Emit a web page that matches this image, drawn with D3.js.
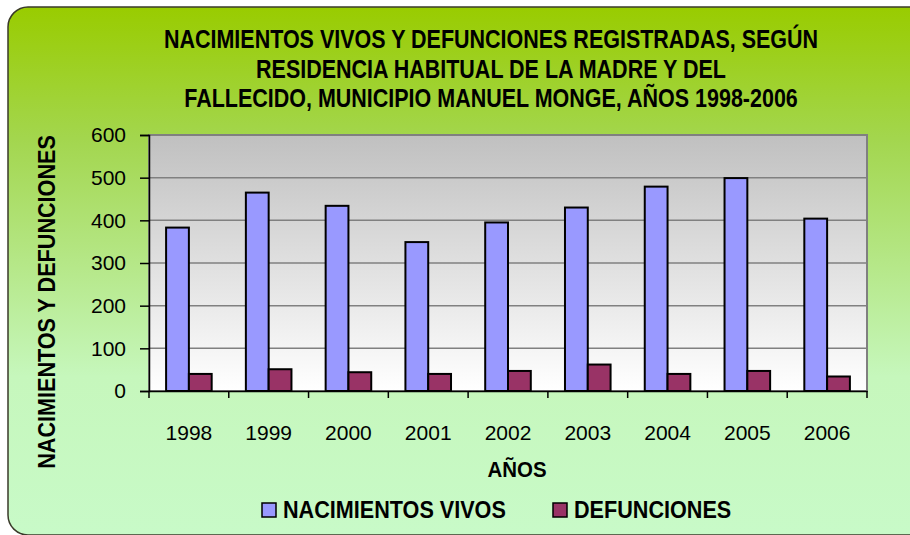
<!DOCTYPE html>
<html>
<head>
<meta charset="utf-8">
<script src="https://cdn.jsdelivr.net/npm/d3@7"></script>
<style>
  html, body { margin: 0; padding: 0; background: #fff; }
  #chart { width: 910px; height: 535px; }
</style>
</head>
<body>
<div id="chart"></div>
<script>
const years = ["1998", "1999", "2000", "2001", "2002", "2003", "2004", "2005", "2006"];
const nacimientos = [383, 465, 434, 349, 395, 430, 479, 499, 404];
const defunciones = [40, 51, 44, 40, 47, 62, 40, 47, 34];
const seriesNames = ["NACIMIENTOS VIVOS", "DEFUNCIONES"];
const yTicks = [0, 100, 200, 300, 400, 500, 600];
const titleLines = [
  "NACIMIENTOS VIVOS Y DEFUNCIONES REGISTRADAS, SEGÚN",
  "RESIDENCIA HABITUAL DE LA MADRE Y DEL",
  "FALLECIDO, MUNICIPIO MANUEL MONGE, AÑOS 1998-2006"
];

const W = 910, H = 535;
const font = "'Liberation Sans', Arial, Helvetica, sans-serif";
const blue = "#9999ff";
const wine = "#993366";

const plot = { left: 149, right: 867, top: 135, bottom: 391 };

const svg = d3.select("#chart").append("svg")
  .attr("width", W).attr("height", H)
  .style("font-family", font);

// squeezed text, to get close to the narrow bold face of the original
function narrow(parent, x, y, sx, str) {
  return parent.append("text")
    .attr("transform", `translate(${x},${y}) scale(${sx},1)`)
    .text(str);
}

const defs = svg.append("defs");
const bgGrad = defs.append("linearGradient").attr("id", "bg").attr("x1", 0).attr("y1", 0).attr("x2", 0).attr("y2", 1);
bgGrad.append("stop").attr("offset", "0%").attr("stop-color", "#99cc00");
bgGrad.append("stop").attr("offset", "25%").attr("stop-color", "#a3d64e");
bgGrad.append("stop").attr("offset", "70%").attr("stop-color", "#c6f7bc");
bgGrad.append("stop").attr("offset", "100%").attr("stop-color", "#c8fac8");

const plotGrad = defs.append("linearGradient").attr("id", "plotbg").attr("x1", 0).attr("y1", 0).attr("x2", 0).attr("y2", 1);
plotGrad.append("stop").attr("offset", "0%").attr("stop-color", "#c0c0c0");
plotGrad.append("stop").attr("offset", "100%").attr("stop-color", "#ffffff");

// chart background (runs off the right and bottom edges like the original crop)
svg.append("rect")
  .attr("x", 8).attr("y", 7)
  .attr("width", 940).attr("height", 528)
  .attr("rx", 20)
  .attr("fill", "url(#bg)")
  .attr("stroke", "#3a3a2a")
  .attr("stroke-width", 1.5);

// title
const titleG = svg.append("g")
  .attr("font-size", "25px")
  .attr("font-weight", "bold")
  .attr("text-anchor", "middle");
titleLines.forEach((line, i) => narrow(titleG, 491, 48 + i * 29.5, 0.86, line));

const x = d3.scaleBand().domain(years).range([plot.left, plot.right]).paddingInner(0).paddingOuter(0);
const x1 = d3.scaleBand().domain(seriesNames).range([0, x.bandwidth()]).paddingOuter(0.75).paddingInner(0);
const y = d3.scaleLinear().domain([0, 600]).range([plot.bottom, plot.top]);

// plot area
svg.append("rect")
  .attr("x", plot.left).attr("y", plot.top)
  .attr("width", plot.right - plot.left).attr("height", plot.bottom - plot.top)
  .attr("fill", "url(#plotbg)")
  .attr("stroke", "#808080")
  .attr("stroke-width", 2);

// gridlines
svg.append("g").selectAll("line")
  .data(yTicks.filter(d => d > 0))
  .join("line")
  .attr("x1", plot.left).attr("x2", plot.right)
  .attr("y1", d => y(d)).attr("y2", d => y(d))
  .attr("stroke", "#808080")
  .attr("stroke-width", 1.5);

// bars
const rows = years.map((yr, i) => ({ year: yr, values: [nacimientos[i], defunciones[i]] }));
const colors = d3.scaleOrdinal().domain(seriesNames).range([blue, wine]);

svg.append("g").selectAll("g")
  .data(rows)
  .join("g")
  .attr("transform", d => `translate(${x(d.year)},0)`)
  .selectAll("rect")
  .data(d => seriesNames.map((s, k) => ({ key: s, value: d.values[k] })))
  .join("rect")
  .attr("x", d => x1(d.key))
  .attr("y", d => y(d.value))
  .attr("width", x1.bandwidth())
  .attr("height", d => y(0) - y(d.value))
  .attr("fill", d => colors(d.key))
  .attr("stroke", "#000")
  .attr("stroke-width", 2);

// y axis
const yAxis = svg.append("g")
  .attr("transform", `translate(${plot.left},0)`)
  .call(d3.axisLeft(y).tickValues(yTicks).tickSize(9).tickPadding(14));
yAxis.select(".domain").attr("stroke", "#000").attr("stroke-width", 1.5);
yAxis.selectAll(".tick line").attr("stroke", "#000").attr("stroke-width", 1.5);
yAxis.selectAll("text")
  .attr("font-size", "21px")
  .attr("font-family", font)
  .attr("fill", "#000");

// x axis
const xAxis = svg.append("g")
  .attr("transform", `translate(0,${plot.bottom})`)
  .call(d3.axisBottom(x).tickSize(0).tickPadding(34));
xAxis.select(".domain").attr("stroke", "#000").attr("stroke-width", 1.5);
xAxis.selectAll("text")
  .attr("font-size", "21px")
  .attr("font-family", font)
  .attr("fill", "#000");
svg.append("g").selectAll("line")
  .data(years.map(d => x(d)).concat([plot.right]))
  .join("line")
  .attr("x1", d => d).attr("x2", d => d)
  .attr("y1", plot.bottom).attr("y2", plot.bottom + 7)
  .attr("stroke", "#000").attr("stroke-width", 1.5);

// axis titles
const axTitles = svg.append("g")
  .attr("font-weight", "bold")
  .attr("text-anchor", "middle");
narrow(axTitles, 517, 477, 0.93, "AÑOS").attr("font-size", "22px");
axTitles.append("text")
  .attr("transform", "translate(55,302) rotate(-90) scale(0.9,1)")
  .attr("font-size", "24px")
  .text("NACIMIENTOS Y DEFUNCIONES");

// legend
const legendX = [262, 553];
const legend = svg.append("g").selectAll("g")
  .data(seriesNames)
  .join("g")
  .attr("transform", (d, i) => `translate(${legendX[i]},503)`);
legend.append("rect")
  .attr("width", 14).attr("height", 14)
  .attr("fill", d => colors(d))
  .attr("stroke", "#000").attr("stroke-width", 1.5);
legend.each(function (d) {
  narrow(d3.select(this), 21, 15, 0.9, d)
    .attr("font-size", "24px")
    .attr("font-weight", "bold");
});
</script>
</body>
</html>
